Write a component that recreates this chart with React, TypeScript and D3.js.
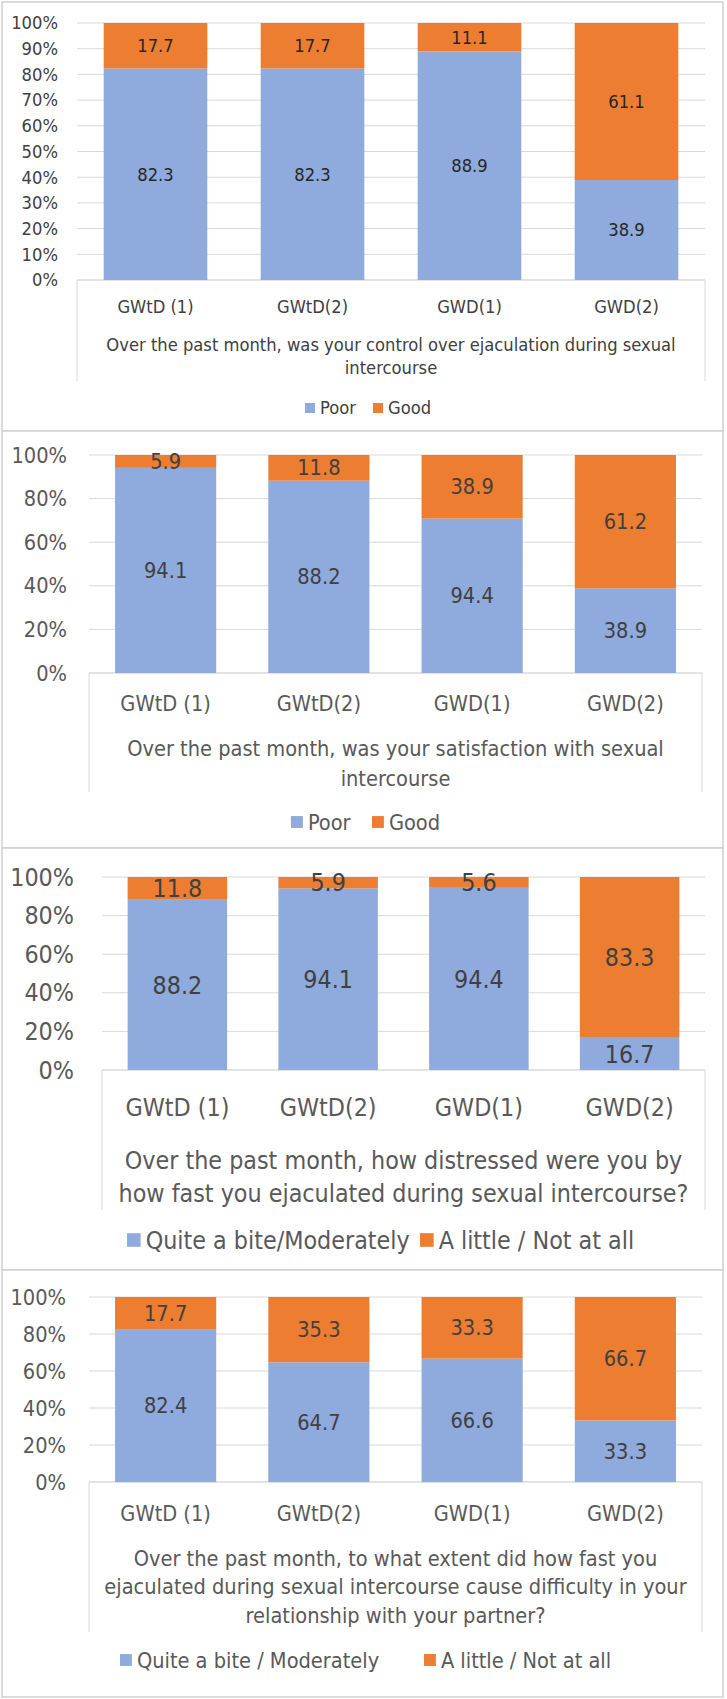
import React from 'react';
import * as d3 from 'd3';

// categories shared by all four questions
const categories = ['GWtD (1)', 'GWtD(2)', 'GWD(1)', 'GWD(2)'];

// Q1: control over ejaculation
const controlPoor = [82.3, 82.3, 88.9, 38.9];
const controlGood = [17.7, 17.7, 11.1, 61.1];

// Q2: satisfaction with intercourse
const satisfactionPoor = [94.1, 88.2, 94.4, 38.9];
const satisfactionGood = [5.9, 11.8, 38.9, 61.2];

// Q3: distress
const distressHigh = [88.2, 94.1, 94.4, 16.7];
const distressLow = [11.8, 5.9, 5.6, 83.3];

// Q4: difficulty in relationship
const difficultyHigh = [82.4, 64.7, 66.6, 33.3];
const difficultyLow = [17.7, 35.3, 33.3, 66.7];

const ticksTen = [0, 10, 20, 30, 40, 50, 60, 70, 80, 90, 100];
const ticksTwenty = [0, 20, 40, 60, 80, 100];

const BLUE = '#8FAADC';
const ORANGE = '#ED7D31';
const GRID = '#D9D9D9';
const FONT = "'DejaVu Sans Condensed', 'Liberation Sans Narrow', sans-serif";

interface PanelSpec {
  a: number[];
  b: number[];
  names: [string, string];
  title: string[];
  ticks: number[];
  top: number;
  bottom: number;
  x0: number;
  x1: number;
  yTop: number;
  yBottom: number;
  tickX: number;
  catY: number;
  titleY: number;
  titleGap: number;
  boxBottom: number;
  legendY: number;
  legendX: [number, number];
  fontSize: number;
  textColor: string;
  labelColor: string;
}

const panels: PanelSpec[] = [
  {
    a: controlPoor, b: controlGood, names: ['Poor', 'Good'],
    title: ['Over the past month, was your control over ejaculation during sexual', 'intercourse'],
    ticks: ticksTen,
    top: 2, bottom: 431, x0: 77, x1: 705, yTop: 23, yBottom: 280, tickX: 58,
    catY: 307, titleY: 345, titleGap: 23, boxBottom: 381, legendY: 408, legendX: [305, 373],
    fontSize: 18.2, textColor: '#404040', labelColor: '#262626',
  },
  {
    a: satisfactionPoor, b: satisfactionGood, names: ['Poor', 'Good'],
    title: ['Over the past month, was your satisfaction with sexual', 'intercourse'],
    ticks: ticksTwenty,
    top: 431, bottom: 848, x0: 89, x1: 702, yTop: 455, yBottom: 673, tickX: 67,
    catY: 703, titleY: 748, titleGap: 30, boxBottom: 792, legendY: 822, legendX: [291, 372],
    fontSize: 21.6, textColor: '#595959', labelColor: '#404040',
  },
  {
    a: distressHigh, b: distressLow, names: ['Quite a bite/Moderately', 'A little / Not at all'],
    title: ['Over the past month, how distressed were you by', 'how fast you ejaculated during sexual intercourse?'],
    ticks: ticksTwenty,
    top: 848, bottom: 1270, x0: 102, x1: 705, yTop: 877, yBottom: 1070, tickX: 74,
    catY: 1107, titleY: 1160, titleGap: 33, boxBottom: 1210, legendY: 1240, legendX: [127, 420],
    fontSize: 24.8, textColor: '#595959', labelColor: '#404040',
  },
  {
    a: difficultyHigh, b: difficultyLow, names: ['Quite a bite / Moderately', 'A little / Not at all'],
    title: [
      'Over the past month, to what extent did how fast you',
      'ejaculated during sexual intercourse cause difficulty in your',
      'relationship with your partner?',
    ],
    ticks: ticksTwenty,
    top: 1270, bottom: 1697, x0: 89, x1: 702, yTop: 1297, yBottom: 1482, tickX: 66,
    catY: 1513, titleY: 1558, titleGap: 28.5, boxBottom: 1632, legendY: 1660, legendX: [120, 424],
    fontSize: 21.6, textColor: '#595959', labelColor: '#404040',
  },
];

function Panel({ p }: { p: PanelSpec }) {
  const rows = categories.map((c, i) => ({ cat: c, a: p.a[i], b: p.b[i] }));
  // 100% stacked: each column is normalised to its own total
  const series = d3.stack<any>().keys(['a', 'b']).offset(d3.stackOffsetExpand)(rows);

  const x = d3.scaleBand().domain(categories).range([p.x0, p.x1]).paddingInner(0.34).paddingOuter(0.17);
  const y = d3.scaleLinear().domain([0, 1]).range([p.yBottom, p.yTop]);
  const colors = [BLUE, ORANGE];
  const cx = (p.x0 + p.x1) / 2;
  const sw = p.fontSize * 0.55;

  return (
    <g fontFamily={FONT}>
      <rect x={2} y={p.top} width={721} height={p.bottom - p.top} fill="#fff" stroke="#D0D0D0" strokeWidth={1.5} />

      {/* gridlines + y ticks */}
      {p.ticks.map(t => (
        <g key={t}>
          <line x1={p.x0} x2={p.x1} y1={y(t / 100)} y2={y(t / 100)} stroke={GRID} strokeWidth={1} />
          <text x={p.tickX} y={y(t / 100)} dy="0.35em" textAnchor="end" fontSize={p.fontSize} fill={p.textColor}>
            {t}%
          </text>
        </g>
      ))}

      {/* category box under the bars */}
      <path
        d={`M${p.x0},${p.boxBottom}V${p.yBottom}H${p.x1}V${p.boxBottom}`}
        fill="none" stroke={GRID} strokeWidth={1}
      />

      {series.map((s, si) => (
        <g key={s.key}>
          {s.map((d, i) => (
            <rect key={i} x={x(categories[i])} width={x.bandwidth()}
              y={y(d[1])} height={y(d[0]) - y(d[1])} fill={colors[si]} />
          ))}
          {s.map((d, i) => (
            <text key={'t' + i} x={(x(categories[i]) || 0) + x.bandwidth() / 2} y={(y(d[0]) + y(d[1])) / 2}
              dy="0.35em" textAnchor="middle" fontSize={p.fontSize} fill={p.labelColor}>
              {(si === 0 ? p.a[i] : p.b[i]).toFixed(1)}
            </text>
          ))}
        </g>
      ))}

      {categories.map(c => (
        <text key={c} x={(x(c) || 0) + x.bandwidth() / 2} y={p.catY} dy="0.35em" textAnchor="middle"
          fontSize={p.fontSize} fill={p.textColor}>
          {c}
        </text>
      ))}

      {p.title.map((line, i) => (
        <text key={i} x={cx} y={p.titleY + i * p.titleGap} dy="0.35em" textAnchor="middle"
          fontSize={p.fontSize} fill={p.textColor}>
          {line}
        </text>
      ))}

      {p.names.map((n, i) => (
        <g key={n}>
          <rect x={p.legendX[i]} y={p.legendY - sw / 2} width={sw} height={sw} fill={colors[i]} />
          <text x={p.legendX[i] + sw + 5} y={p.legendY} dy="0.35em" fontSize={p.fontSize} fill={p.textColor}>
            {n}
          </text>
        </g>
      ))}
    </g>
  );
}

export default function App() {
  return (
    <svg width={727} height={1699} style={{ position: 'absolute', left: 0, top: 0, background: '#fff' }}>
      <rect width={727} height={1699} fill="#fff" />
      {panels.map((p, i) => <Panel key={i} p={p} />)}
    </svg>
  );
}
